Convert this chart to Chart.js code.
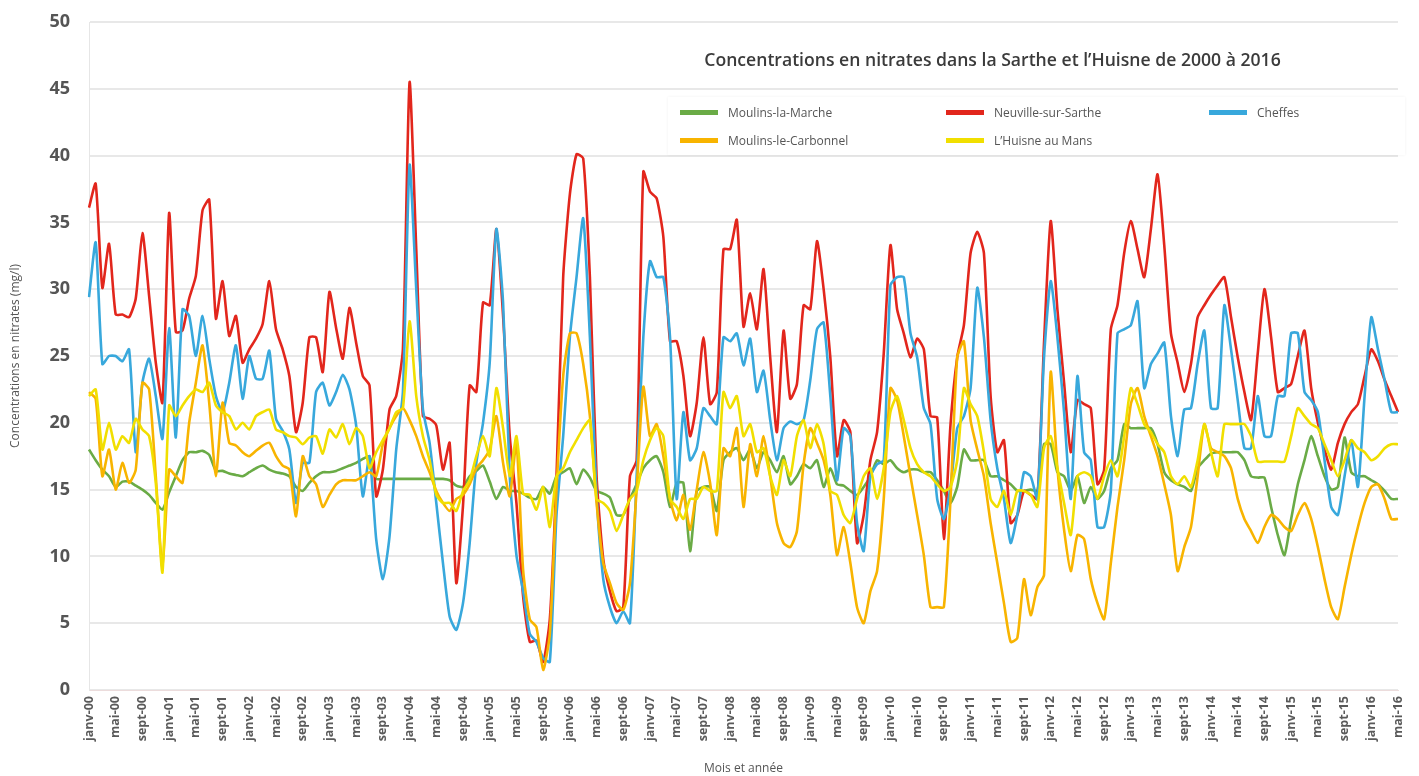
<!DOCTYPE html>
<html lang="fr">
<head>
<meta charset="utf-8">
<title>Concentrations en nitrates</title>
<script src="https://cdn.jsdelivr.net/npm/chart.js@4.4.1/dist/chart.umd.min.js"></script>
<style>
  html, body { margin: 0; padding: 0; background: #fff; }
  #cadre { position: relative; width: 1419px; height: 776px; overflow: hidden; font-family: 'Open Sans', sans-serif; }
  #grafico { position: absolute; left: 0; top: 0; }
  #titre { position: absolute; left: 660px; top: 37px; width: 665px; height: 44px; line-height: 44px; text-align: center;
           font-size: 17.6px; font-weight: 600; color: #3b3b3b; }
  .item { position: absolute; display: flex; align-items: center; font-size: 12px; color: #555; white-space: nowrap; }
  .trait { width: 38px; height: 5px; margin-right: 10px; }
  #legende { position: absolute; left: 668px; top: 97px; width: 737px; height: 58px; background: #fff;
             box-shadow: 0 0 3px rgba(0, 0, 0, 0.06); }
</style>
</head>
<body>
<div id="cadre">
  <canvas id="grafico" width="1419" height="776"></canvas>
  <div id="titre">Concentrations en nitrates dans la Sarthe et l’Huisne de 2000 à 2016</div>
  <div id="legende"></div>
</div>
<script>
// mois (categories) : janv-00 ... mai-16
const moisCourts = ['janv', 'févr', 'mars', 'avr', 'mai', 'juin', 'juil', 'août', 'sept', 'oct', 'nov', 'déc'];
const anneeDebut = 2000;
const nombreMois = 197;
const pasEtiquettes = 4; // une etiquette tous les 4 mois

// valeurs (mg/l), une ligne par annee
const moulinsLaMarche = [
  18, 17.2, 16.5, 16, 15.2, 15.6, 15.6, 15.3, 15, 14.6, 14, 13.5,
  14.8, 16, 17.2, 17.8, 17.8, 17.9, 17.6, 16.4, 16.4, 16.2, 16.1, 16,
  16.3, 16.6, 16.8, 16.5, 16.3, 16.2, 16, 15.2, 14.9, 15.5, 16, 16.3,
  16.3, 16.4, 16.6, 16.8, 17, 17.3, 17.5, 15.8, 15.8, 15.8, 15.8, 15.8,
  15.8, 15.8, 15.8, 15.8, 15.8, 15.8, 15.7, 15.3, 15.2, 16, 16.4, 16.8,
  15.6, 14.3, 15.2, 14.9, 14.9, 14.7, 14.4, 14.3, 15.2, 14.7, 16, 16.3,
  16.6, 15.4, 16.5, 15.9, 14.9, 14.7, 14.4, 13.1, 13.1, 14.3, 15.4, 16.6,
  17.2, 17.5, 16.3, 13.7, 15.5, 15.5, 10.4, 14.9, 15.2, 15.2, 13.4, 17.2,
  17.8, 18.1, 17.2, 18, 16.6, 17.8, 17.2, 16.3, 17.5, 15.4, 16, 16.9,
  16.6, 17.2, 15.2, 16.6, 15.4, 15.3, 14.9, 14.6, 15.2, 16, 17.2, 16.9,
  17.2, 16.6, 16.3, 16.5, 16.5, 16.3, 16.3, 15.7, 14.9, 14, 15.2, 18,
  17.2, 17.2, 17.2, 16, 16, 15.7, 15.4, 14.9, 14.9, 15, 14.9, 18.4,
  18.4, 16.3, 16, 14.9, 16, 14, 15.2, 14.3, 14.9, 16.6, 17.2, 19.9,
  19.6, 19.6, 19.6, 19.6, 18.4, 16.3, 15.7, 15.4, 15.2, 14.9, 16.6, 17.2,
  17.7, 17.8, 17.8, 17.8, 17.8, 17.2, 16, 15.9, 15.9, 13.7, 11.6, 10.1,
  12.8, 15.4, 17.2, 19, 17.5, 16, 15, 15.2, 18.9, 16.3, 16, 16,
  15.7, 15.4, 14.9, 14.3, 14.3
];

const neuvilleSurSarthe = [
  36.1, 37.9, 30.1, 33.4, 28.1, 28.1, 27.9, 29.3, 34.2, 29.5, 24.5, 21.5,
  35.7, 26.8, 26.9, 29.3, 31, 35.9, 36.7, 27.8, 30.6, 26.5, 28, 24.5,
  25.5, 26.3, 27.4, 30.6, 27, 25.5, 23.5, 19.3, 21.5, 26.4, 26.4, 23.8,
  29.8, 27.1, 24.8, 28.6, 26, 23.5, 22.8, 14.5, 16.5, 21, 22, 25.5,
  45.5, 33, 20.5, 20.3, 19.8, 16.5, 18.5, 8, 13.8, 22.8, 22.3, 29,
  28.8, 34.5, 28, 19, 14, 7, 3.6, 3.7, 2.1, 5.3, 16, 30.9,
  37.1, 40.1, 39.8, 30.9, 16, 9.8, 7.4, 5.9, 6.2, 16, 17.2, 38.8,
  37.3, 36.8, 33.9, 26.1, 26.1, 23.5, 19, 21.5, 26.4, 21.4, 22.3, 33,
  33, 35.2, 27.2, 29.7, 27, 31.5, 24.9, 19.3, 26.9, 21.8, 22.9, 28.8,
  28.5, 33.6, 30, 24.9, 17.5, 20.2, 19.3, 11, 13.1, 17.2, 19.3, 25.2,
  33.3, 28.5, 26.7, 24.9, 26.3, 25.5, 20.5, 20.4, 11.3, 19.9, 24.9, 27.3,
  32.7, 34.3, 32.7, 22, 17.8, 18.7, 12.5, 13.1, 14.9, 14.6, 14.3, 26,
  35.1, 28.5, 23, 17.8, 21.7, 21.4, 21.1, 15.4, 16.5, 27, 28.8, 32.7,
  35.1, 33, 30.9, 34.5, 38.6, 33.3, 26.7, 24.5, 22.3, 24.4, 27.9, 28.8,
  29.6, 30.3, 30.9, 27.9, 24.9, 22.3, 20.2, 25.2, 30, 26.4, 22.3, 22.6,
  22.9, 25, 26.9, 22.6, 20, 18, 16.5, 18.5, 19.9, 20.8, 21.4, 23.5,
  25.5, 24.6, 23.2, 22, 20.8
];

const cheffes = [
  29.4, 33.5, 24.4, 25, 25, 24.6, 25.5, 17.8, 23, 24.8, 22, 18.8,
  27.1, 18.9, 28.5, 28, 25, 28, 24.8, 22, 20.8, 23, 25.8, 21.8,
  25, 23.3, 23.3, 25.4, 20.3, 19.4, 18, 14, 17, 17, 22.3, 23,
  21.3, 22.3, 23.6, 22.5, 19.8, 14.5, 17.5, 11.3, 8.3, 11.5, 18, 22.3,
  39.3, 30, 21, 18.5, 14, 9.5, 5.5, 4.5, 6.5, 11, 17, 20,
  24.5, 34.5, 29, 16, 10.1, 7.4, 4.2, 3.6, 2.4, 2.1, 13.1, 19,
  26.4, 30.9, 35.3, 26.4, 14.6, 8.3, 6.2, 5, 5.9, 5, 16, 26.4,
  32.1, 30.9, 30.9, 26.4, 14.3, 20.8, 17.2, 18.1, 21.1, 20.5, 19.9, 26.4,
  26.1, 26.7, 24.3, 26.3, 22.3, 23.9, 20.2, 17.2, 19.6, 20.1, 19.9, 20.2,
  23.2, 27, 27.5, 22, 15.7, 19.6, 19, 12.5, 10.4, 16, 16.9, 17.2,
  30.3, 30.9, 30.9, 26.7, 24.9, 21.1, 19.9, 14.3, 12.8, 15.2, 19.6, 20.5,
  22.6, 30.1, 26.4, 20.2, 16.6, 14.3, 11, 13.1, 16.3, 16, 14.3, 24.9,
  30.6, 26.4, 20.8, 14.3, 23.5, 17.8, 17.2, 12.2, 12.2, 14.9, 26.7, 27,
  27.3, 29.1, 22.6, 24.4, 25.2, 26, 20.5, 17.5, 21, 21.1, 24.4, 26.9,
  21.1, 21.1, 28.8, 25.5, 21.7, 18.1, 18.1, 22, 19, 19, 22, 22,
  26.7, 26.7, 22.3, 21.7, 20.8, 17.2, 13.7, 13.1, 16, 18.7, 15.2, 22,
  27.9, 25.5, 23.2, 20.8, 20.8
];

const moulinsLeCarbonnel = [
  22.3, 21.8, 16, 18, 15, 17, 15.5, 16.5, 23, 22.5, 16, 9.2,
  16.5, 16, 15.5, 20, 23, 25.8, 21.5, 16, 21.5, 18.5, 18.3, 17.8,
  17.5, 17.9, 18.3, 18.5, 17.5, 16.8, 16.5, 13, 17.5, 16, 15.4, 13.7,
  14.6, 15.4, 15.7, 15.7, 15.7, 16, 16.3, 16, 18.4, 19.6, 20.5, 21.1,
  20.2, 19, 17.5, 16.3, 14.9, 14, 13.4, 14.3, 14.6, 15.4, 16.6, 17.2,
  18, 20.5, 17, 14.5, 18.5, 9, 5.3, 4.7, 1.5, 4.2, 15, 23.5,
  26.7, 26.7, 24.4, 20.5, 14, 9.5, 8, 6.5, 6, 8, 15, 22.7,
  19, 19.9, 17.5, 14.3, 12.7, 14.6, 12, 15, 17.8, 15.5, 11.6, 18.1,
  17.5, 19.6, 13.7, 18.4, 16, 19, 16, 12.5, 11, 10.7, 11.9, 16.9,
  19.6, 18.5, 17.2, 14.6, 10.1, 12.2, 9.5, 6.2, 5, 7.4, 8.9, 14.3,
  22.6, 21.7, 19, 16, 13.1, 10.1, 6.2, 6.2, 6.2, 14.3, 24.9, 26.1,
  20.2, 18, 16, 12.5, 9.5, 6.5, 3.6, 3.9, 8.3, 5.6, 7.7, 8.6,
  23.8, 16.6, 12, 8.9, 11.6, 11.3, 8.3, 6.5, 5.3, 9.5, 13.7, 17.2,
  21.4, 22.6, 20.5, 19, 17.5, 15.4, 13.1, 8.9, 10.7, 12.2, 16, 19.9,
  18.1, 17.8, 17.5, 16.6, 14.3, 12.8, 11.9, 11, 12.2, 13.1, 12.8, 12.2,
  11.9, 13.1, 14, 12.8, 10.7, 8.3, 6.2, 5.3, 7.7, 10.1, 12.2, 14,
  15.2, 15.4, 14.3, 12.8, 12.8
];

const huisneAuMans = [
  22, 22.5, 18, 20, 18, 19, 18.5, 20.3, 19.5, 19, 15.5, 8.8,
  21.3, 20.5, 21.3, 22, 22.5, 22.3, 23, 21.3, 20.8, 20.5, 19.5, 20,
  19.5, 20.5, 20.8, 21, 19.5, 19.3, 19, 18.9, 18.4, 18.9, 19, 17.7,
  19.5, 18.9, 19.9, 18.4, 19.6, 19, 16.6, 17.8, 18.7, 19.6, 20.8, 21.1,
  27.6, 22, 19, 17.2, 14.6, 14, 14, 13.4, 14.9, 15.7, 17.5, 19,
  17.5, 22.6, 19.6, 16, 19, 14.7, 14.6, 13.5, 15.2, 12.2, 16, 16.6,
  17.8, 18.7, 19.6, 20.2, 14.3, 14, 13.4, 11.9, 13.1, 14.3, 14.9, 17.2,
  18.7, 19.6, 19, 14.3, 13.7, 12.8, 14.3, 14.3, 15.2, 14.9, 14.9, 22.3,
  21.1, 22, 19, 19.9, 17.8, 18.1, 16, 14.6, 17.2, 16, 19, 20.2,
  18.1, 19.9, 18.4, 14.9, 14.6, 13.1, 12.5, 14.3, 16, 16.6, 14.3, 16.6,
  20.8, 22, 20.2, 18.1, 16.9, 16.3, 16, 15.4, 14.9, 15.2, 17.2, 22.6,
  21.4, 20.5, 17.8, 14.3, 13.7, 14.9, 13.1, 14.9, 14.9, 14.6, 13.7, 18.1,
  19, 16.6, 14, 11.6, 16, 16.3, 16, 14.3, 16, 17.2, 16, 19,
  22.6, 21.4, 19.9, 19.3, 18.4, 17.8, 16, 15.4, 16, 15.2, 17.2, 19.9,
  17.8, 16, 19.9, 19.9, 19.9, 19.9, 19, 17.1, 17.1, 17.1, 17.1, 17.1,
  19, 21.1, 20.5, 19.9, 19.6, 18.4, 17.2, 16, 17.2, 18.7, 18.1, 17.8,
  17.2, 17.5, 18.1, 18.4, 18.4
];

// etiquettes des mois : janv-00, févr-00, ...
const etiquettesMois = [];
for (let i = 0; i < nombreMois; i++) {
  const annee = (anneeDebut + Math.floor(i / 12)) % 100;
  etiquettesMois.push(moisCourts[i % 12] + '-' + String(annee).padStart(2, '0'));
}

const series = [
  { nom: 'Moulins-la-Marche', valeurs: moulinsLaMarche, couleur: '#6aab46', ordre: 5 },
  { nom: 'Neuville-sur-Sarthe', valeurs: neuvilleSurSarthe, couleur: '#e2261c', ordre: 4 },
  { nom: 'Cheffes', valeurs: cheffes, couleur: '#38a8dc', ordre: 3 },
  { nom: 'Moulins-le-Carbonnel', valeurs: moulinsLeCarbonnel, couleur: '#f8b400', ordre: 2 },
  { nom: 'L’Huisne au Mans', valeurs: huisneAuMans, couleur: '#f1df00', ordre: 1 }
];

// positions des entrees de legende (x, y du centre du trait)
const placesLegende = [[680, 112], [946, 112], [1209, 112], [680, 140], [946, 140]];

Chart.defaults.font.family = "'Open Sans', sans-serif";

const ctx = document.getElementById('grafico').getContext('2d');
const grafico = new Chart(ctx, {
  type: 'line',
  data: {
    labels: etiquettesMois,
    datasets: series.map(s => ({
      label: s.nom,
      data: s.valeurs,
      borderColor: s.couleur,
      backgroundColor: s.couleur,
      borderWidth: 2.6,
      pointRadius: 0,
      tension: 0.2,
      fill: false,
      order: s.ordre
    }))
  },
  options: {
    responsive: false,
    animation: false,
    layout: { padding: { left: 0, right: 14, top: 22, bottom: 0 } },
    plugins: {
      legend: { display: false },
      tooltip: { enabled: false }
    },
    scales: {
      x: {
        grid: { display: false, drawTicks: false },
        border: { display: true, color: '#ecdcdc' },
        ticks: {
          autoSkip: false,
          minRotation: 90,
          maxRotation: 90,
          padding: 6,
          color: '#5a5a5a',
          font: { size: 12.5, weight: 'bold' },
          callback: function (valeur, index) {
            return index % pasEtiquettes === 0 ? this.getLabelForValue(valeur) : '';
          }
        },
        title: {
          display: true,
          text: 'Mois et année',
          color: '#555',
          font: { size: 12 },
          padding: { top: 0, bottom: 0 }
        },
        afterFit: echelle => { echelle.height = 86; }
      },
      y: {
        min: 0,
        max: 50,
        ticks: { stepSize: 5, padding: 19, color: '#555', font: { size: 18, weight: 'bold' } },
        grid: { color: '#e8e8e8', lineWidth: 2, drawTicks: false },
        border: { display: true, color: '#e6e6e6' },
        title: {
          display: true,
          text: 'Concentrations en nitrates (mg/l)',
          color: '#555',
          font: { size: 12 },
          padding: { top: 8, bottom: 0 }
        },
        afterFit: echelle => {
          echelle.width = 89;
          // la marge des etiquettes ne doit pas decaler le haut du graphique
          echelle.paddingTop = 0;
          echelle.paddingBottom = 0;
        }
      }
    }
  }
});

// legende en html, construite depuis les jeux de donnees
const cadre = document.getElementById('cadre');
grafico.data.datasets.forEach((ds, i) => {
  const item = document.createElement('div');
  item.className = 'item';
  item.style.left = placesLegende[i][0] + 'px';
  item.style.top = (placesLegende[i][1] - 9) + 'px';
  item.style.height = '18px';
  const trait = document.createElement('span');
  trait.className = 'trait';
  trait.style.background = ds.borderColor;
  const texte = document.createElement('span');
  texte.textContent = ds.label;
  item.appendChild(trait);
  item.appendChild(texte);
  cadre.appendChild(item);
});
</script>
</body>
</html>
